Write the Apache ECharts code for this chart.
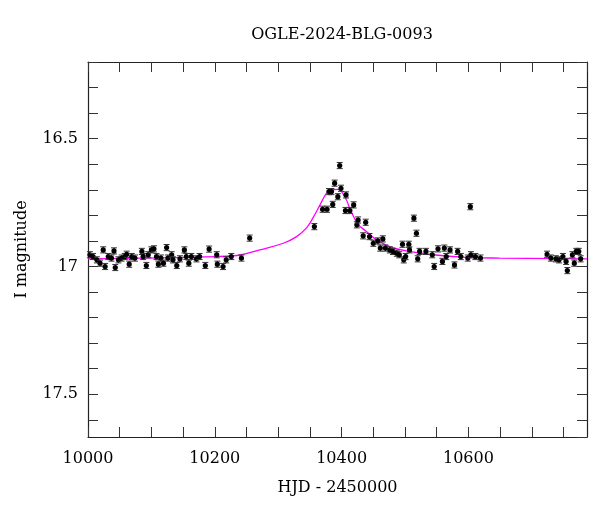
<!DOCTYPE html>
<html>
<head>
<meta charset="utf-8">
<script src="https://cdn.jsdelivr.net/npm/echarts@6/dist/echarts.min.js"></script>
<style>html,body{margin:0;padding:0;background:#fff}#main{width:600px;height:512px}</style>
</head>
<body>
<div id="main"></div>
<script>
// observations: HJD - 2450000, I magnitude
const hjd = [10003,10008,10014,10019,10024,10027,10032,10037,10041,10043,10048,10053,10058,10061,10065,10069,10074,10085,10087,10092,10095,10100,10104,10108,10111,10115,10119,10124,10126,10132,10134,10140,10145,10152,10155,10159,10163,10171,10176,10185,10191,10203,10204,10213,10218,10226,10242,10255,
  10357,10370,10377,10380,10384,10386,10389,10394,10397,10399,10406,10407,10413,10419,10424,10426,10434,10438,10444,10450,10457,10461,10465,10469,10476,10481,10487,10491,10496,10498,10501,10506,10507,10514,10518,10520,10523,10533,10543,10546,10552,10559,10562,10565,10571,10578,10583,10588,10599,10603,10604,10611,10619,
  10724,10730,10738,10743,10749,10754,10756,10764,10767,10770,10774,10777]
const mag = [16.954,16.961,16.974,16.987,16.935,17.0,16.961,16.967,16.939,17.004,16.974,16.967,16.961,16.952,16.991,16.961,16.967,16.941,16.961,16.996,16.954,16.935,16.931,16.961,16.991,16.967,16.987,16.926,16.967,16.954,16.974,16.996,16.970,16.935,16.961,16.987,16.961,16.970,16.961,16.996,16.932,16.954,16.991,17.0,16.974,16.961,16.967,16.889,
  16.844,16.776,16.776,16.707,16.707,16.757,16.674,16.727,16.605,16.694,16.781,16.720,16.781,16.759,16.837,16.818,16.880,16.827,16.883,16.909,16.900,16.928,16.892,16.928,16.935,16.941,16.948,16.954,16.913,16.974,16.961,16.913,16.935,16.811,16.870,16.970,16.941,16.941,16.954,17.0,16.931,16.980,16.928,16.961,16.935,16.994,16.941,16.961,16.967,16.766,16.954,16.961,16.967,
  16.952,16.967,16.970,16.974,16.961,16.980,17.016,16.954,16.987,16.941,16.941,16.970]
const magErr = 0.012

// model curve
const modelHjd = [10000,10206,10242,10271,10308,10329,10345,10355,10366,10376,10384,10394,10405,10415,10426,10439,10455,10476,10502,10544,10597,10649,10787]
const modelMag = [16.970,16.961,16.954,16.935,16.909,16.883,16.848,16.809,16.759,16.714,16.700,16.698,16.727,16.785,16.835,16.863,16.896,16.922,16.939,16.954,16.964,16.967,16.970]

const font = 'DejaVu Serif'
const chart = echarts.init(document.getElementById('main'))

const axisCommon = {
  axisLine: { show: true, onZero: false, lineStyle: { color: '#222', width: 1.2 } },
  axisTick: { show: true, inside: true, length: 10, lineStyle: { color: '#333' } },
  splitLine: { show: false }
}

chart.setOption({
  animation: false,
  title: {
    text: 'OGLE-2024-BLG-0093', left: 337, top: 22, textAlign: 'center',
    textStyle: { fontFamily: font, fontSize: 16, fontWeight: 'normal', color: '#000' }
  },
  grid: { left: 88, right: 13, top: 62, bottom: 75 },
  xAxis: [
    Object.assign({}, axisCommon, {
      type: 'value', min: 10000, max: 10787, interval: 50, position: 'bottom',
      name: 'HJD - 2450000', nameLocation: 'middle', nameGap: 43,
      nameTextStyle: { fontFamily: font, fontSize: 16, color: '#000' },
      axisLabel: { fontFamily: font, fontSize: 16, color: '#000', margin: 14, showMaxLabel: false,
        formatter: v => (v % 200 === 0 ? String(v) : '') }
    }),
    Object.assign({}, axisCommon, {
      type: 'value', min: 10000, max: 10787, interval: 50, position: 'top', axisLabel: { show: false }
    })
  ],
  yAxis: [
    Object.assign({}, axisCommon, {
      type: 'value', inverse: true, min: 16.2, max: 17.667, interval: 0.1, position: 'left',
      name: 'I magnitude', nameLocation: 'middle', nameGap: 58, nameRotate: 90,
      nameTextStyle: { fontFamily: font, fontSize: 16, color: '#000' },
      axisLabel: { fontFamily: font, fontSize: 16, color: '#000', margin: 10, showMaxLabel: false,
        formatter: v => { const r = Math.round(v * 10); return r % 5 === 0 ? String(r / 10) : '' } }
    }),
    Object.assign({}, axisCommon, {
      type: 'value', inverse: true, min: 16.2, max: 17.667, interval: 0.1, position: 'right', axisLabel: { show: false }
    })
  ],
  series: [
    {
      type: 'line', data: modelHjd.map((x, i) => [x, modelMag[i]]),
      smooth: 0.4, symbol: 'none', lineStyle: { color: '#ff00ff', width: 1.3 }, z: 2
    },
    {
      type: 'custom', z: 3,
      data: hjd.map((x, i) => [x, mag[i], magErr]),
      renderItem: (params, api) => {
        const x = api.value(0), y = api.value(1), e = api.value(2)
        const p = api.coord([x, y]), hi = api.coord([x, y - e]), lo = api.coord([x, y + e])
        const s = { stroke: '#333', lineWidth: 1 }
        return { type: 'group', children: [
          { type: 'line', shape: { x1: p[0], y1: hi[1], x2: p[0], y2: lo[1] }, style: s },
          { type: 'line', shape: { x1: p[0] - 3, y1: hi[1], x2: p[0] + 3, y2: hi[1] }, style: s },
          { type: 'line', shape: { x1: p[0] - 3, y1: lo[1], x2: p[0] + 3, y2: lo[1] }, style: s },
          { type: 'circle', shape: { cx: p[0], cy: p[1], r: 2.6 }, style: { fill: '#000' } }
        ] }
      }
    }
  ]
})
</script>
</body>
</html>
